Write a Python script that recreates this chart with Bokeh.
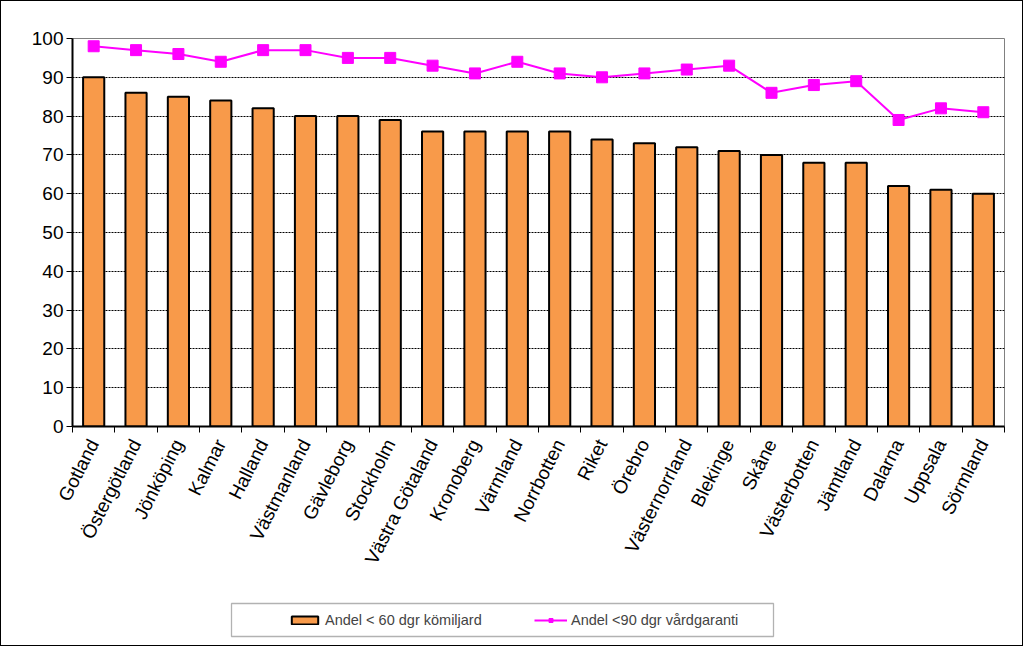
from bokeh.plotting import figure
from bokeh.layouts import column
from bokeh.models import Range1d, FixedTicker, Legend, LegendItem, ColumnDataSource, BoxAnnotation
from bokeh.embed import file_html
from bokeh.resources import INLINE

categories = ["Gotland", "Östergötland", "Jönköping", "Kalmar", "Halland", "Västmanland",
              "Gävleborg", "Stockholm", "Västra Götaland", "Kronoberg", "Värmland",
              "Norrbotten", "Riket", "Örebro", "Västernorrland", "Blekinge", "Skåne",
              "Västerbotten", "Jämtland", "Dalarna", "Uppsala", "Sörmland"]
bar_values = [90, 86, 85, 84, 82, 80, 80, 79, 76, 76, 76, 76, 74, 73, 72, 71, 70, 68, 68, 62, 61, 60]
line_values = [98, 97, 96, 94, 97, 97, 95, 95, 93, 91, 94, 91, 90, 91, 92, 93, 86, 88, 89, 79, 82, 81]
y_ticks = [0, 10, 20, 30, 40, 50, 60, 70, 80, 90, 100]
bar_label = "Andel < 60 dgr kömiljard"
line_label = "Andel <90 dgr vårdgaranti"

n = len(categories)
xs = list(range(n))
src = ColumnDataSource(dict(x=xs, bar=bar_values, line=line_values))

FONT = "Liberation Sans"
BAR_FILL = "#F89A4A"
MAGENTA = "#FF00FF"

W = 1023
H_MAIN = 590
H_LEG = 56

p = figure(width=W, height=H_MAIN, output_backend="svg", toolbar_location=None,
           x_range=Range1d(-0.5, n - 0.5), y_range=Range1d(0, 100),
           min_border_left=71, min_border_top=37, min_border_right=20,
           min_border_bottom=H_MAIN - 426 + 1)
p.styles = {"border-top": "1px solid black", "border-left": "1px solid black",
            "border-right": "1px solid black", "box-sizing": "border-box"}
p.background_fill_color = "white"
p.border_fill_color = "white"
p.outline_line_color = "#808080"
p.outline_line_width = 1

bars = p.vbar(x="x", top="bar", width=0.5, source=src, fill_color=BAR_FILL,
              line_color="black", line_width=2)
ln = p.line(x="x", y="line", source=src, line_color=MAGENTA, line_width=2)
sc = p.scatter(x="x", y="line", source=src, marker="square", size=11,
               fill_color=MAGENTA, line_color=MAGENTA)

# axes
p.xaxis.ticker = FixedTicker(ticks=xs, minor_ticks=[i - 0.5 for i in range(n + 1)])
p.xaxis.major_label_overrides = {i: c for i, c in enumerate(categories)}
p.xaxis.major_label_orientation = 1.1
p.xaxis.major_tick_out = 0
p.xaxis.major_tick_in = 0
p.xaxis.minor_tick_out = 6
p.xaxis.minor_tick_in = 0
p.xaxis.minor_tick_line_color = "black"
p.xaxis.axis_line_color = "black"
p.xaxis.axis_line_width = 2
p.xaxis.major_label_text_font = FONT
p.xaxis.major_label_text_font_size = "19px"
p.xaxis.major_label_text_color = "black"
p.xaxis.major_label_standoff = 8

p.yaxis.ticker = FixedTicker(ticks=y_ticks)
p.yaxis.major_tick_out = 6
p.yaxis.major_tick_in = 0
p.yaxis.minor_tick_line_color = None
p.yaxis.axis_line_color = "black"
p.yaxis.axis_line_width = 2
p.yaxis.major_label_text_font = FONT
p.yaxis.major_label_text_font_size = "19px"
p.yaxis.major_label_text_color = "black"
p.yaxis.major_label_standoff = 3

p.xgrid.grid_line_color = None
p.ygrid.ticker = FixedTicker(ticks=y_ticks[1:-1])
p.ygrid.grid_line_color = "black"
p.ygrid.grid_line_dash = "2 1"
p.ygrid.grid_line_width = 1

# legend strip under the chart (its frame is aligned with the chart frame)
lp = figure(width=W, height=H_LEG, output_backend="svg", toolbar_location=None,
            x_range=Range1d(0, 1), y_range=Range1d(0, 1),
            min_border=0, min_border_left=71, min_border_right=20,
            min_border_top=0, min_border_bottom=0)
lp.styles = {"border-bottom": "1px solid black", "border-left": "1px solid black",
             "border-right": "1px solid black", "box-sizing": "border-box"}
lp.axis.visible = False
lp.grid.visible = False
lp.outline_line_color = None
lp.background_fill_color = "white"
lp.border_fill_color = "white"
hidden = ColumnDataSource(dict(x=[-10], y=[-10]))
lb = lp.vbar(x="x", top="y", width=0.1, source=hidden, fill_color=BAR_FILL,
             line_color="black", line_width=2)
ll = lp.line(x="x", y="y", source=hidden, line_color=MAGENTA, line_width=2)
ls = lp.scatter(x="x", y="y", source=hidden, marker="square", size=7,
                fill_color=MAGENTA, line_color=MAGENTA)

lp.add_layout(BoxAnnotation(left=159, right=701, top=43, bottom=10,
                            left_units="screen", right_units="screen",
                            top_units="screen", bottom_units="screen",
                            fill_color="white", fill_alpha=1,
                            line_color="black", line_width=1.3, level="underlay"))

legend = Legend(items=[LegendItem(label=bar_label, renderers=[lb]),
                       LegendItem(label=line_label, renderers=[ll, ls])],
                orientation="horizontal", location=(288 - 72, 18),
                label_text_font=FONT, label_text_font_size="14.5px",
                border_line_color=None, background_fill_alpha=0,
                padding=0, spacing=0, label_width=209,
                glyph_width=33, glyph_height=10, label_standoff=4,
                margin=0)
lp.add_layout(legend, "center")

layout = column(p, lp, spacing=0)
open("out.html", "w").write(file_html(layout, INLINE))
